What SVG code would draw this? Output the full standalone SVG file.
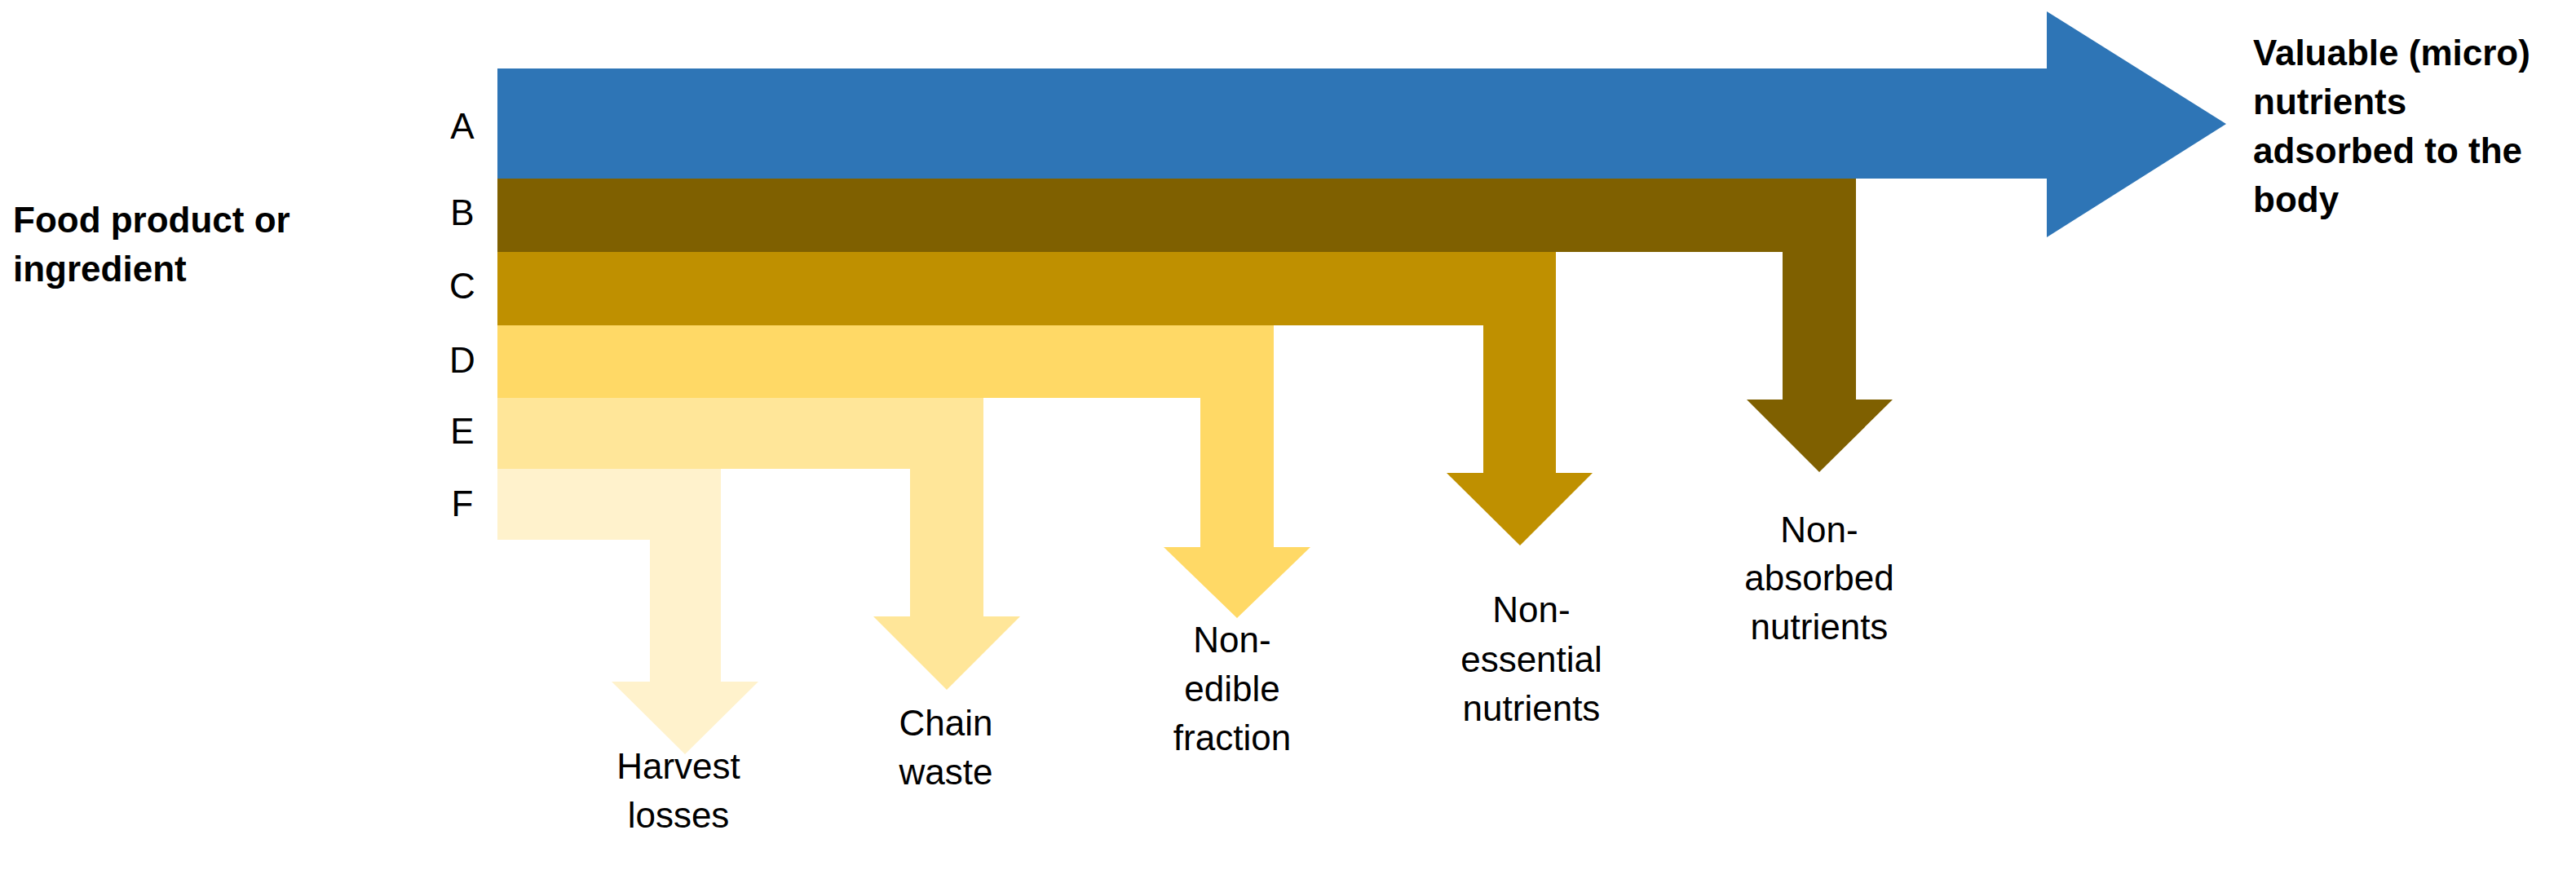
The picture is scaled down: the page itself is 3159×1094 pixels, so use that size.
<svg xmlns="http://www.w3.org/2000/svg" width="3159" height="1094" viewBox="0 0 3159 1094">
<style>
text{font-family:"Liberation Sans",Arial,sans-serif;font-size:44px;fill:#000}
.b{font-weight:bold}
.m{text-anchor:middle}
</style>
<rect width="3159" height="1094" fill="#fff"/>
<g id="connectors">
<polygon id="F" fill="#FFF2CC" points="610,575 884,575 884,836 930,836 840,925 750,836 797,836 797,662 610,662"/>
<polygon id="E" fill="#FFE699" points="610,488 1206,488 1206,756 1251,756 1161,846 1071,756 1116,756 1116,575 610,575"/>
<polygon id="D" fill="#FFD966" points="610,399 1562,399 1562,671 1607,671 1517,758 1427,671 1472,671 1472,488 610,488"/>
<polygon id="C" fill="#BF9000" points="610,309 1908,309 1908,580 1953,580 1864,669 1774,580 1819,580 1819,399 610,399"/>
<polygon id="B" fill="#7F6000" points="610,219 2276,219 2276,490 2321,490 2231,579 2142,490 2186,490 2186,309 610,309"/>
<polygon id="A" fill="#2E75B6" points="610,84 2510,84 2510,14 2730,152 2510,291 2510,219 610,219"/>
</g>
<g id="row-labels" class="m">
<text x="567" y="170" class="m">A</text>
<text x="567" y="276" class="m">B</text>
<text x="567" y="366" class="m">C</text>
<text x="567" y="457" class="m">D</text>
<text x="567" y="544" class="m">E</text>
<text x="567" y="633" class="m">F</text>
</g>
<g id="source"><text class="b" x="16" y="285">Food product or</text><text class="b" x="16" y="345">ingredient</text></g>
<g id="target"><text class="b" x="2763" y="80">Valuable (micro)</text><text class="b" x="2763" y="140">nutrients</text><text class="b" x="2763" y="200">adsorbed to the</text><text class="b" x="2763" y="260">body</text></g>
<g id="harvest"><text class="m" x="832" y="955">Harvest</text><text class="m" x="832" y="1015">losses</text></g>
<g id="chain"><text class="m" x="1160" y="902">Chain</text><text class="m" x="1160" y="962">waste</text></g>
<g id="edible"><text class="m" x="1511" y="800">Non-</text><text class="m" x="1511" y="860">edible</text><text class="m" x="1511" y="920">fraction</text></g>
<g id="essential"><text class="m" x="1878" y="763">Non-</text><text class="m" x="1878" y="824">essential</text><text class="m" x="1878" y="884">nutrients</text></g>
<g id="absorbed"><text class="m" x="2231" y="665">Non-</text><text class="m" x="2231" y="724">absorbed</text><text class="m" x="2231" y="784">nutrients</text></g>
</svg>
